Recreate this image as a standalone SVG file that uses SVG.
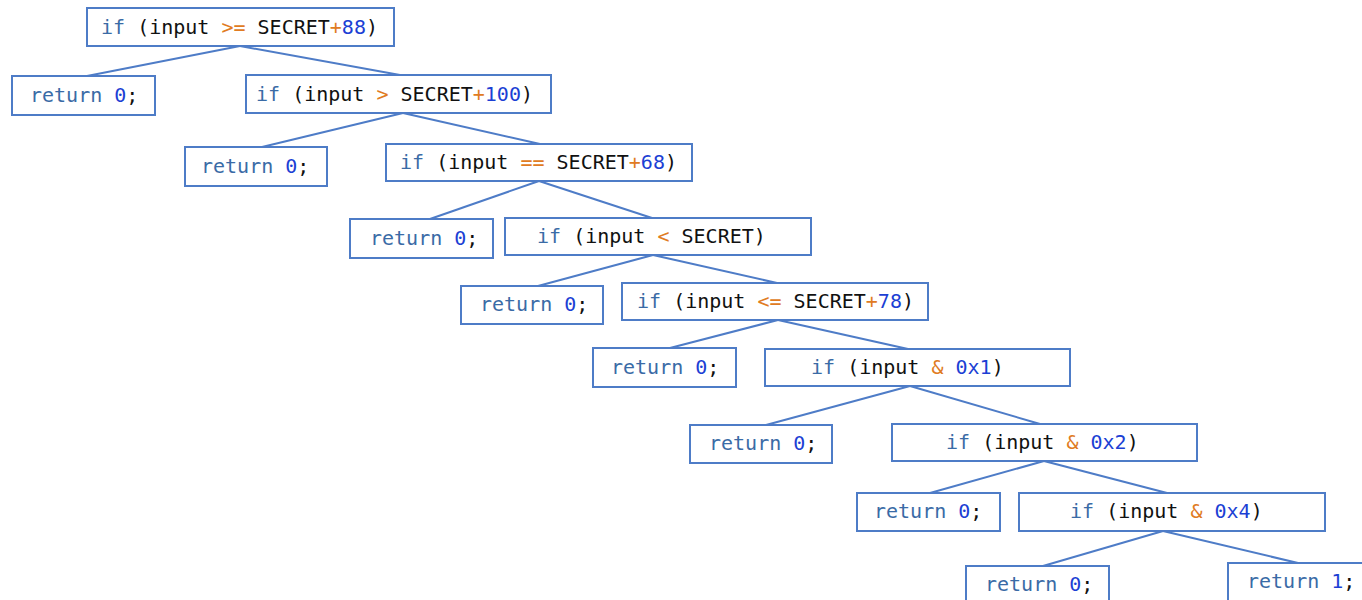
<svg xmlns="http://www.w3.org/2000/svg" width="1362" height="600" viewBox="0 0 1362 600">
<style>
.box{fill:#fff;stroke:#4E7CC7;stroke-width:2}
.edge{stroke:#4E7CC7;stroke-width:2;fill:none}
text{font-family:"DejaVu Sans Mono","Liberation Mono",monospace;font-size:20px;fill:#111}
.k{fill:#3A6BA6}
.n{fill:#1C3FD4}
.o{fill:#E07B22}
</style>
<rect width="1362" height="600" fill="#fff"/>
<g id="connectors">
<line class="edge" x1="240" y1="46" x2="87" y2="76"/>
<line class="edge" x1="240" y1="46" x2="400" y2="75"/>
<line class="edge" x1="403" y1="113" x2="262" y2="147"/>
<line class="edge" x1="403" y1="113" x2="540" y2="144"/>
<line class="edge" x1="539" y1="181" x2="430" y2="219"/>
<line class="edge" x1="539" y1="181" x2="652" y2="218"/>
<line class="edge" x1="653" y1="255" x2="538" y2="286"/>
<line class="edge" x1="653" y1="255" x2="777" y2="283"/>
<line class="edge" x1="778" y1="320" x2="670" y2="348"/>
<line class="edge" x1="778" y1="320" x2="908" y2="349"/>
<line class="edge" x1="910" y1="386" x2="766" y2="425"/>
<line class="edge" x1="910" y1="386" x2="1040" y2="424"/>
<line class="edge" x1="1044" y1="461" x2="930" y2="493"/>
<line class="edge" x1="1044" y1="461" x2="1167" y2="493"/>
<line class="edge" x1="1163" y1="531" x2="1043" y2="566"/>
<line class="edge" x1="1163" y1="531" x2="1298" y2="563"/>
</g>
<g id="n1"><rect class="box" x="87" y="8" width="307" height="38"/><text x="101" y="34"><tspan class="k">if</tspan> (input <tspan class="o">&gt;=</tspan> SECRET<tspan class="o">+</tspan><tspan class="n">88</tspan>)</text></g>
<g id="r1"><rect class="box" x="12" y="76" width="143" height="39"/><text x="30" y="102"><tspan class="k">return</tspan> <tspan class="n">0</tspan>;</text></g>
<g id="n2"><rect class="box" x="246" y="75" width="305" height="38"/><text x="256" y="101"><tspan class="k">if</tspan> (input <tspan class="o">&gt;</tspan> SECRET<tspan class="o">+</tspan><tspan class="n">100</tspan>)</text></g>
<g id="r2"><rect class="box" x="185" y="147" width="142" height="39"/><text x="201" y="173"><tspan class="k">return</tspan> <tspan class="n">0</tspan>;</text></g>
<g id="n3"><rect class="box" x="386" y="144" width="306" height="37"/><text x="400" y="169"><tspan class="k">if</tspan> (input <tspan class="o">==</tspan> SECRET<tspan class="o">+</tspan><tspan class="n">68</tspan>)</text></g>
<g id="r3"><rect class="box" x="350" y="219" width="143" height="39"/><text x="370" y="245"><tspan class="k">return</tspan> <tspan class="n">0</tspan>;</text></g>
<g id="n4"><rect class="box" x="505" y="218" width="306" height="37"/><text x="537" y="243"><tspan class="k">if</tspan> (input <tspan class="o">&lt;</tspan> SECRET)</text></g>
<g id="r4"><rect class="box" x="461" y="286" width="142" height="38"/><text x="480" y="311"><tspan class="k">return</tspan> <tspan class="n">0</tspan>;</text></g>
<g id="n5"><rect class="box" x="622" y="283" width="306" height="37"/><text x="637" y="308"><tspan class="k">if</tspan> (input <tspan class="o">&lt;=</tspan> SECRET<tspan class="o">+</tspan><tspan class="n">78</tspan>)</text></g>
<g id="r5"><rect class="box" x="593" y="348" width="143" height="39"/><text x="611" y="374"><tspan class="k">return</tspan> <tspan class="n">0</tspan>;</text></g>
<g id="n6"><rect class="box" x="765" y="349" width="305" height="37"/><text x="811" y="374"><tspan class="k">if</tspan> (input <tspan class="o">&amp;</tspan> <tspan class="n">0x1</tspan>)</text></g>
<g id="r6"><rect class="box" x="690" y="425" width="142" height="38"/><text x="709" y="450"><tspan class="k">return</tspan> <tspan class="n">0</tspan>;</text></g>
<g id="n7"><rect class="box" x="892" y="424" width="305" height="37"/><text x="946" y="449"><tspan class="k">if</tspan> (input <tspan class="o">&amp;</tspan> <tspan class="n">0x2</tspan>)</text></g>
<g id="r7"><rect class="box" x="857" y="493" width="143" height="38"/><text x="874" y="518"><tspan class="k">return</tspan> <tspan class="n">0</tspan>;</text></g>
<g id="n8"><rect class="box" x="1019" y="493" width="306" height="38"/><text x="1070" y="518"><tspan class="k">if</tspan> (input <tspan class="o">&amp;</tspan> <tspan class="n">0x4</tspan>)</text></g>
<g id="r8"><rect class="box" x="966" y="566" width="143" height="40"/><text x="985" y="591"><tspan class="k">return</tspan> <tspan class="n">0</tspan>;</text></g>
<g id="r9"><rect class="box" x="1228" y="563" width="143" height="40"/><text x="1247" y="588"><tspan class="k">return</tspan> <tspan class="n">1</tspan>;</text></g>
</svg>
